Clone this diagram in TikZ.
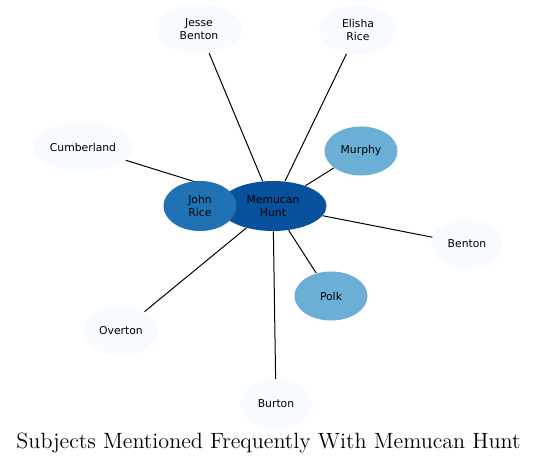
\documentclass[tikz,border=0pt]{standalone}
\usepackage{fontspec}
\newfontfamily\subjfont{DejaVu Sans}
\usetikzlibrary{shapes.geometric}
\pgfdeclarelayer{background}
\pgfsetlayers{background,main}
\definecolor{huntblue}{HTML}{08519C}
\definecolor{riceblue}{HTML}{2171B5}
\definecolor{midblue}{HTML}{6BAED6}
\definecolor{paleblue}{HTML}{F7FBFF}
\begin{document}
\begin{tikzpicture}[x=0.5pt,y=-0.5pt,
    subject/.style={ellipse, inner sep=0pt, minimum height=24.5pt, align=center,
      font=\subjfont\fontsize{5.4}{6.5}\selectfont},
    link/.style={line width=0.5pt, black}]
  \useasboundingbox (0,0) rectangle (537,465);

  % Nodo central
  \node[subject, fill=huntblue, minimum width=53.5pt, minimum height=25pt] (hunt) at (273,206) {Memucan\\Hunt};
  \node[subject, fill=riceblue, minimum width=36.5pt, minimum height=25pt] (jrice) at (200,206) {John\\Rice};

  % Otros temas
  \node[subject, fill=midblue, minimum width=36.5pt] (murphy) at (361,151) {Murphy};
  \node[subject, fill=midblue, minimum width=36.5pt] (polk) at (331,296) {Polk};
  \node[subject, fill=paleblue, minimum width=43pt] (jbenton) at (199,29) {Jesse\\Benton};
  \node[subject, fill=paleblue, minimum width=38.5pt] (erice) at (358,30) {Elisha\\Rice};
  \node[subject, fill=paleblue, minimum width=50pt] (cumber) at (83,147) {Cumberland};
  \node[subject, fill=paleblue, minimum width=35.5pt] (benton) at (467,244) {Benton};
  \node[subject, fill=paleblue, minimum width=37pt] (overton) at (121,331) {Overton};
  \node[subject, fill=paleblue, minimum width=36pt] (burton) at (276,404) {Burton};

  % Aristas
  \begin{pgfonlayer}{background}
    \fill[white] (0,0) rectangle (537,465);
    \foreach \other in {jrice,murphy,polk,jbenton,erice,cumber,benton,overton,burton}
      \draw[link] (hunt) -- (\other);
  \end{pgfonlayer}

  % Titulo
  \node[font=\fontsize{11.05}{13}\selectfont] (title) at (268.5,443) {Subjects Mentioned Frequently With Memucan Hunt};
\end{tikzpicture}
\end{document}
